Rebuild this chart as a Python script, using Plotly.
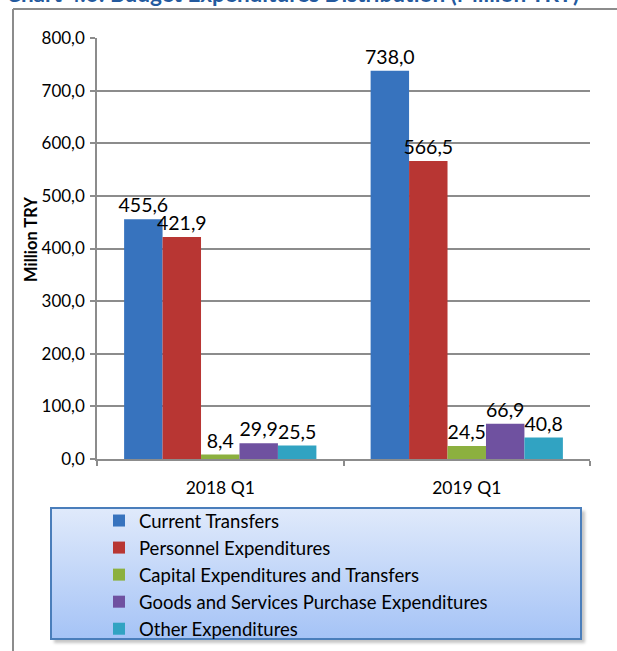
import base64
import plotly.graph_objects as go

categories = ["2018 Q1", "2019 Q1"]
series_names = [
    "Current Transfers",
    "Personnel Expenditures",
    "Capital Expenditures and Transfers",
    "Goods and Services Purchase Expenditures",
    "Other Expenditures",
]
current_transfers = [455.6, 738.0]
personnel_expenditures = [421.9, 566.5]
capital_expenditures = [8.4, 24.5]
goods_services = [29.9, 66.9]
other_expenditures = [25.5, 40.8]
y_tick_values = [0, 100, 200, 300, 400, 500, 600, 700, 800]

series_values = [current_transfers, personnel_expenditures, capital_expenditures,
                 goods_services, other_expenditures]
colors = ["#3773BE", "#B83633", "#8CB03F", "#6F51A0", "#31A3C2"]

W, H = 617, 651
L, R, T, B = 97, 590, 38, 459
FONT = "Lato, 'Open Sans', sans-serif"


def px2x(px):
    return (px - L) / (R - L)


def py2y(py):
    return (B - py) / (B - T)


fig = go.Figure()
for name, vals, col in zip(series_names, series_values, colors):
    fig.add_trace(go.Bar(
        x=categories, y=vals, name=name,
        marker=dict(color=col, line=dict(width=0)),
        texttemplate="%{y:.1f}", textposition="outside",
        textfont=dict(size=19.5, color="#000000", family=FONT),
        cliponaxis=False, constraintext="none",
    ))

# legend background (gradient + shadow + border) as an svg image
lw, lh = 532, 133
svg = (
    f'<svg xmlns="http://www.w3.org/2000/svg" width="{lw+8}" height="{lh+8}">'
    '<defs><linearGradient id="g" x1="0" y1="0" x2="0" y2="1">'
    '<stop offset="0" stop-color="#E0EAFB"/><stop offset="1" stop-color="#A5C3F6"/>'
    '</linearGradient><filter id="f"><feGaussianBlur stdDeviation="1.5"/></filter></defs>'
    f'<rect x="4" y="4" width="{lw-1}" height="{lh-1}" fill="#7f7f7f" opacity="0.45" filter="url(#f)"/>'
    f'<rect x="1" y="1" width="{lw-2}" height="{lh-2}" fill="url(#g)" stroke="#4A7EBB" stroke-width="2"/>'
    '</svg>'
)
src = "data:image/svg+xml;base64," + base64.b64encode(svg.encode()).decode()
fig.add_layout_image(dict(
    source=src, xref="paper", yref="paper",
    x=px2x(50), y=py2y(507),
    sizex=(lw + 8) / (R - L), sizey=(lh + 8) / (B - T),
    xanchor="left", yanchor="top", sizing="stretch", layer="above",
))

# outer frame lines
frame = dict(color="#8C8C8C", width=2)
fig.add_shape(type="line", xref="paper", yref="paper",
              x0=px2x(13), x1=px2x(13), y0=py2y(9), y1=py2y(700), line=frame)
fig.add_shape(type="line", xref="paper", yref="paper",
              x0=px2x(13), x1=px2x(700), y0=py2y(9), y1=py2y(9), line=frame)

fig.add_annotation(
    text="<b>Chart 4.6: Budget Expenditures Distribution (Million TRY)</b>",
    xref="paper", yref="paper", x=px2x(4), y=py2y(-7),
    xanchor="left", yanchor="middle", showarrow=False,
    font=dict(size=22.5, color="#245A9E", family=FONT),
)
fig.add_annotation(
    text="<b>Million TRY</b>", textangle=-90,
    xref="paper", yref="paper", x=px2x(31), y=py2y(240),
    xanchor="center", yanchor="middle", showarrow=False,
    font=dict(size=16.5, color="#000000", family=FONT),
)

fig.update_layout(
    width=W, height=H,
    margin=dict(l=L, r=W - R, t=T, b=H - B, pad=0, autoexpand=False),
    paper_bgcolor="#FFFFFF", plot_bgcolor="rgba(0,0,0,0)",
    separators=", ",
    barmode="group", bargap=0.22, bargroupgap=0,
    font=dict(family=FONT, color="#000000"),
    showlegend=True,
    legend=dict(
        x=px2x(99), y=py2y(502), xanchor="left", yanchor="top",
        bgcolor="rgba(0,0,0,0)", borderwidth=0,
        font=dict(size=18.5, color="#000000", family=FONT),
        traceorder="normal", itemclick=False, itemdoubleclick=False,
    ),
    xaxis=dict(
        showline=True, linecolor="#8C8C8C", linewidth=1.5,
        ticks="outside", tickson="boundaries", ticklen=5, tickcolor="#8C8C8C",
        tickwidth=1.5, showgrid=False, ticklabelstandoff=12,
        tickfont=dict(size=17.5, color="#000000"), automargin=False,
    ),
    yaxis=dict(
        range=[0, 800], tickvals=y_tick_values, tickformat=".1f",
        showline=True, linecolor="#8C8C8C", linewidth=1.5,
        ticks="outside", ticklen=5, tickcolor="#8C8C8C", tickwidth=1.5,
        showgrid=True, gridcolor="#8C8C8C", gridwidth=1.5,
        zeroline=False, ticklabelstandoff=2, automargin=False,
        tickfont=dict(size=17, color="#000000"),
    ),
)

fig.write_html("out.html", config={"displayModeBar": False},
               post_script="document.body.style.margin='0px';")
